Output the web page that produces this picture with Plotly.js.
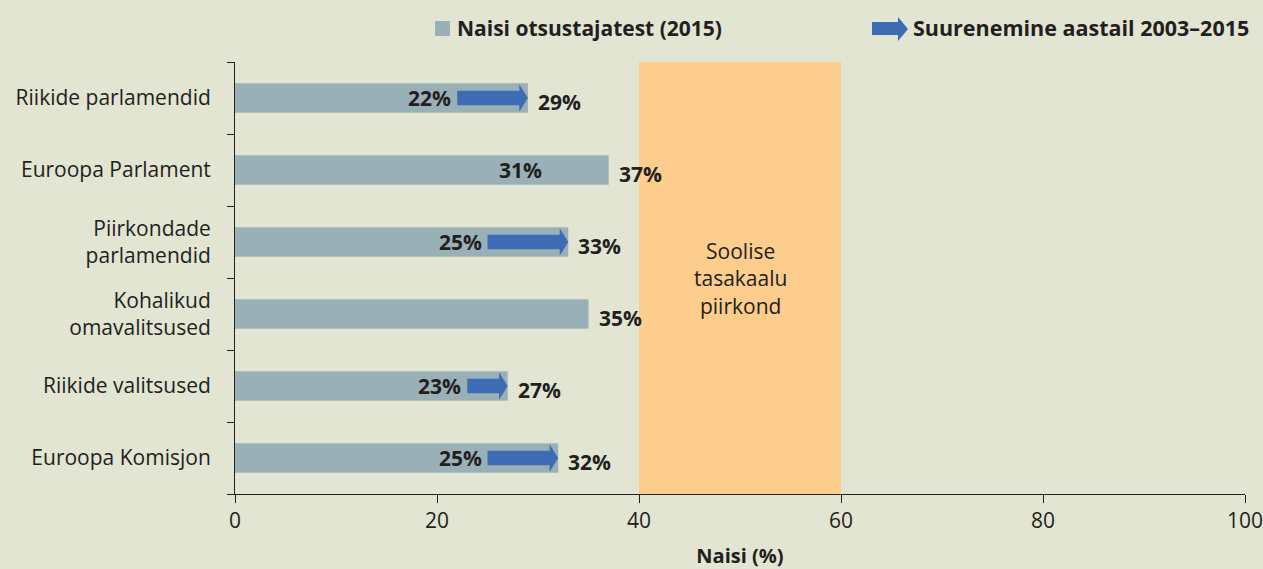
<!DOCTYPE html>
<html><head><meta charset="utf-8">
<script src="https://cdn.plot.ly/plotly-3.0.1.min.js"></script>
<style>html,body{margin:0;padding:0;background:#E1E5D2;}#c{width:1263px;height:569px;}</style>
</head><body><div id="c"></div>
<script>
const categories = ["Riikide parlamendid","Euroopa Parlament","Piirkondade<br>parlamendid","Kohalikud<br>omavalitsused","Riikide valitsused","Euroopa Komisjon"];
const values2015 = [29, 37, 33, 35, 27, 32];
const values2003 = [22, 31, 25, null, 23, 25];
const hasArrow = [true, false, true, false, true, true];
const balanceZone = [40, 60];
const xTicks = [0, 20, 40, 60, 80, 100];

const BG = '#E1E5D2', BAR = '#9AB0B7', ORANGE = '#FCCD8C', BLUE = '#3D6CB5', TXT = '#231F20';
const FONT = 'Open Sans, Noto Sans, sans-serif';
const L = 235, R = 18, T = 62, B = 75, W = 1263, H = 569;
const PW = W - L - R, PH = H - T - B;
const px = x => (x - L) / PW, py = y => (T + PH - y) / PH;

const idx = categories.map((_, i) => i);
const traces = [{
  type: 'bar', orientation: 'h', x: values2015, y: idx, width: 0.41,
  marker: {color: BAR}, hoverinfo: 'skip', showlegend: false
}];

const shapes = [{
  type: 'rect', xref: 'x', yref: 'paper', x0: balanceZone[0], x1: balanceZone[1], y0: 0, y1: 1,
  fillcolor: ORANGE, line: {width: 0}, layer: 'below'
}];
const annotations = [];
const headLen = 0.85, bodyH = 0.1, headH = 0.19;
idx.forEach(i => {
  const e = values2015[i], s = values2003[i];
  if (hasArrow[i] && s != null) {
    const hb = e - headLen;
    shapes.push({type: 'path', xref: 'x', yref: 'y', fillcolor: BLUE, line: {width: 0},
      path: `M${s},${i - bodyH} L${hb},${i - bodyH} L${hb},${i - headH} L${e},${i} L${hb},${i + headH} L${hb},${i + bodyH} L${s},${i + bodyH} Z`});
  }
  if (s != null) annotations.push({x: s, y: i, xref: 'x', yref: 'y', text: '<b>' + s + '%</b>', showarrow: false,
    xanchor: 'right', yanchor: 'middle', xshift: -4, font: {family: FONT, size: 21, color: TXT}});
  annotations.push({x: e, y: i, xref: 'x', yref: 'y', text: '<b>' + e + '%</b>', showarrow: false,
    xanchor: 'left', yanchor: 'middle', xshift: 8, yshift: -4, font: {family: FONT, size: 21, color: TXT}});
});
annotations.push({x: (balanceZone[0] + balanceZone[1]) / 2, y: 2.5, xref: 'x', yref: 'y',
  text: 'Soolise<br>tasakaalu<br>piirkond', showarrow: false, align: 'center', yanchor: 'middle',
  font: {family: FONT, size: 21, color: TXT}});

// legend
shapes.push({type: 'rect', xref: 'paper', yref: 'paper', x0: px(435), x1: px(450), y0: py(36), y1: py(21),
  fillcolor: BAR, line: {width: 0}});
annotations.push({x: px(455), y: py(28), xref: 'paper', yref: 'paper', xanchor: 'left', yanchor: 'middle', showarrow: false,
  text: '<b>Naisi otsustajatest (2015)</b>', font: {family: FONT, size: 21, color: TXT}});
const ax0 = px(872), ax1 = px(898), ax2 = px(908);
shapes.push({type: 'path', xref: 'paper', yref: 'paper', fillcolor: BLUE, line: {width: 0},
  path: `M${ax0},${py(22)} L${ax1},${py(22)} L${ax1},${py(17)} L${ax2},${py(29)} L${ax1},${py(41)} L${ax1},${py(35)} L${ax0},${py(35)} Z`});
annotations.push({x: px(911), y: py(28), xref: 'paper', yref: 'paper', xanchor: 'left', yanchor: 'middle', showarrow: false,
  text: '<b>Suurenemine aastail 2003–2015</b>', font: {family: FONT, size: 21.5, color: TXT}});

const layout = {
  width: W, height: H, margin: {l: L, r: R, t: T, b: B},
  paper_bgcolor: BG, plot_bgcolor: BG, showlegend: false,
  font: {family: FONT, size: 21, color: TXT},
  xaxis: {range: [0, 100], tickvals: xTicks, ticks: 'outside', ticklen: 8, tickcolor: TXT,
    showline: true, linecolor: TXT, linewidth: 1, showgrid: false, zeroline: false,
    ticklabeloverflow: 'allow', automargin: false,
    tickfont: {family: FONT, size: 21, color: TXT},
    title: {text: '<b>Naisi (%)</b>', font: {family: FONT, size: 20, color: TXT}, standoff: 18}},
  yaxis: {range: [5.5, -0.5], tickvals: idx, ticktext: categories, ticks: '', showline: true,
    linecolor: TXT, linewidth: 1, showgrid: false, zeroline: false, ticklabelstandoff: 19,
    tickfont: {family: FONT, size: 21, color: TXT}},
  yaxis2: {overlaying: 'y', side: 'left', range: [5.5, -0.5], tickvals: [-0.5, 0.5, 1.5, 2.5, 3.5, 4.5, 5.5],
    showticklabels: false, ticks: 'outside', ticklen: 7, tickcolor: TXT, showgrid: false, zeroline: false, showline: false},
  shapes, annotations, bargap: 0.59
};
traces.push({type: 'scatter', x: [0], y: [0], yaxis: 'y2', mode: 'none', hoverinfo: 'skip', showlegend: false});
Plotly.newPlot('c', traces, layout, {staticPlot: true, displayModeBar: false});
</script></body></html>
